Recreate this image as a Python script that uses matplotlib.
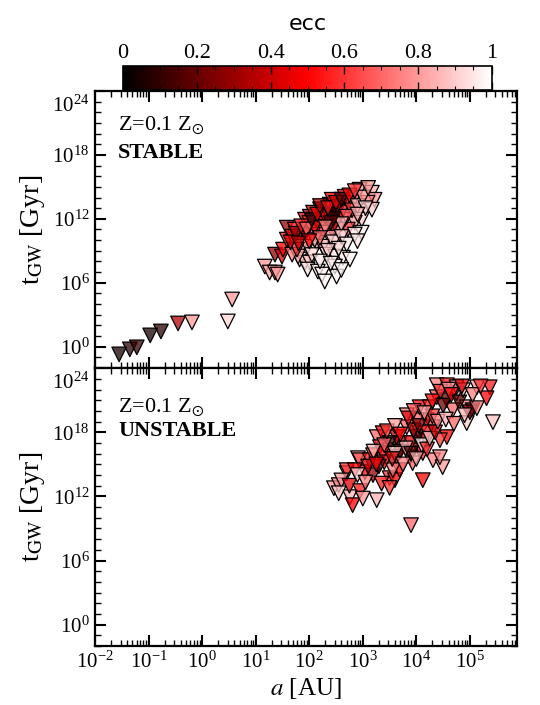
import numpy as np
import matplotlib
matplotlib.use("Agg")
import matplotlib.pyplot as plt
import matplotlib.transforms as mtrans
from matplotlib.colors import LinearSegmentedColormap, Normalize
from matplotlib.cm import ScalarMappable
from matplotlib.ticker import LogLocator, NullFormatter, FixedLocator, MultipleLocator, FuncFormatter

plt.rcParams["font.family"] = ["Liberation Serif", "DejaVu Serif"]
plt.rcParams["mathtext.fontset"] = "stix"

# --- STABLE (top panel): log10 a [AU], log10 t_GW [Gyr], eccentricity ---
st_loga = [-1.55, -1.35, -1.22, -0.97, -0.77, -0.45, -0.19, 0.48, 0.56,
           1.17, 1.26, 1.36, 1.41, 1.36, 1.49, 1.51, 1.58, 1.58, 1.68, 1.79, 1.73,
           1.92, 2.01, 2.07, 2.16, 2.25, 2.33, 2.38, 2.42, 2.57, 2.66, 2.72, 2.85,
           2.94, 3.17, 3.22, 3.09, 3.17, 2.98, 2.85, 2.72, 2.98, 2.85, 2.66, 2.53,
           2.53, 2.42, 2.38, 2.24, 2.07, 1.92, 1.86, 1.97, 2.14, 2.25, 2.33, 2.48,
           2.63, 2.76, 1.82, 1.92, 2.01, 1.97, 2.16, 2.24, 2.48, 2.51, 2.29, 1.79,
           1.68, 1.77, 2.20, 2.45, 2.30, 2.60, 2.10, 2.00, 2.50, 2.80, 2.70, 2.40,
           2.45,
           1.65, 1.75, 1.85, 1.95, 2.05, 2.15, 2.20, 2.35, 2.50, 2.60, 2.75, 2.90,
           3.00, 3.05, 2.90, 2.60, 2.40, 2.30, 2.10, 2.20, 2.45, 2.60, 2.70, 2.55,
           2.35, 2.05, 2.20, 2.40, 2.60, 2.90, 2.00, 1.80, 3.10, 2.85]
st_logt = [-0.72, -0.25, -0.06, 1.06, 1.43, 2.18, 2.28, 2.37, 4.43,
           7.52, 6.96, 6.96, 6.77, 8.64, 8.46, 9.11, 10.05, 11.17, 10.33, 10.33, 10.99,
           11.92, 12.20, 12.58, 11.64, 11.92, 12.58, 13.33, 13.79, 13.14, 14.07, 13.51, 13.98,
           14.73, 14.45, 13.79, 13.51, 12.86, 11.92, 11.64, 10.99, 10.70, 10.52, 11.92, 11.92,
           10.99, 10.99, 10.24, 10.70, 10.52, 10.52, 9.39, 9.39, 9.77, 9.39, 8.64, 8.46,
           8.36, 8.18, 8.18, 7.90, 7.90, 7.24, 7.05, 6.77, 7.52, 6.58, 6.12, 8.46,
           8.64, 9.11, 12.90, 12.30, 12.20, 12.60, 11.20, 11.60, 13.00, 12.80, 12.20, 12.40,
           12.00,
           9.80, 10.60, 11.30, 11.00, 11.90, 12.40, 13.20, 13.00, 13.50, 13.80, 14.20, 13.20,
           14.00, 13.00, 12.40, 11.50, 11.60, 11.20, 10.00, 10.20, 9.80, 10.30, 9.60, 9.20,
           9.00, 8.60, 8.00, 7.80, 7.20, 9.90, 9.90, 9.70, 14.90, 14.60]
st_ecc = [0.05, 0.08, 0.10, 0.05, 0.08, 0.35, 0.80, 0.92, 0.80,
          0.80, 0.82, 0.78, 0.80, 0.30, 0.45, 0.50, 0.55, 0.30, 0.50, 0.45, 0.55,
          0.45, 0.30, 0.40, 0.20, 0.50, 0.15, 0.45, 0.50, 0.20, 0.50, 0.45, 0.70,
          0.80, 0.85, 0.80, 0.75, 0.90, 0.90, 0.80, 0.60, 0.97, 0.95, 0.75, 0.40,
          0.70, 0.35, 0.80, 0.65, 0.60, 0.50, 0.85, 0.80, 0.80, 0.85, 0.95, 0.95,
          0.95, 0.97, 0.90, 0.90, 0.88, 0.95, 0.96, 0.97, 0.98, 0.98, 0.98, 0.85,
          0.75, 0.60, 0.10, 0.05, 0.45, 0.55, 0.50, 0.60, 0.50, 0.60, 0.65, 0.10,
          0.12,
          0.45, 0.30, 0.55, 0.70, 0.10, 0.50, 0.35, 0.55, 0.45, 0.15, 0.50, 0.85,
          0.80, 0.90, 0.85, 0.85, 0.20, 0.75, 0.85, 0.70, 0.90, 0.90, 0.95, 0.92,
          0.90, 0.92, 0.95, 0.96, 0.98, 0.95, 0.50, 0.40, 0.80, 0.60]

# --- UNSTABLE (bottom panel) ---
un_loga = [2.46, 2.55, 2.70, 2.76, 2.81, 3.26, 3.90, 4.12, 2.70, 2.91, 3.04, 3.19,
           3.50, 3.60, 2.94, 3.13, 3.26, 3.37, 3.32, 3.50, 3.69, 3.82, 3.63, 4.06,
           4.31, 4.49, 4.44, 4.57, 4.44, 4.31, 4.19, 4.01, 3.82, 4.06, 4.25, 4.38,
           4.57, 4.68, 4.75, 4.38, 4.57, 4.75, 4.87, 4.94, 5.05, 4.94, 5.13, 5.37,
           5.31, 5.43, 4.06, 4.19, 3.88, 3.93, 3.63, 4.12, 3.69, 2.85, 3.19, 3.37,
           3.56, 5.00, 5.13, 3.50, 3.70, 3.90, 3.80, 4.00, 3.40, 3.60, 4.20, 4.30,
           3.95, 4.10, 3.30,
           2.60, 2.75, 2.90, 2.95, 3.05, 3.10, 3.20, 3.25, 3.35, 3.40, 3.45, 3.55,
           3.60, 3.70, 3.75, 3.85, 3.90, 3.95, 4.00, 4.05, 4.15, 4.20, 4.25, 4.30,
           4.35, 4.40, 4.45, 4.50, 4.55, 4.60, 4.65, 4.70, 4.80, 4.85, 4.90, 5.05,
           5.20, 3.00, 2.55, 3.50]
un_logt = [12.77, 13.06, 14.18, 11.93, 11.18, 11.65, 9.31, 13.52, 14.46, 15.58, 14.27, 13.99,
           13.71, 13.52, 15.39, 15.39, 17.55, 17.92, 16.61, 16.33, 16.98, 18.48, 17.55, 16.33,
           15.39, 14.74, 15.67, 17.55, 17.26, 18.48, 19.14, 19.14, 19.60, 20.35, 20.35, 21.29,
           21.01, 20.07, 21.66, 22.41, 22.41, 22.22, 21.94, 20.35, 20.07, 18.86, 22.22, 22.22,
           21.19, 18.95, 17.92, 17.26, 15.67, 15.11, 15.67, 16.05, 14.46, 14.46, 15.86, 16.05,
           14.46, 19.88, 20.26, 17.00, 16.20, 17.00, 16.50, 17.60, 15.20, 16.00, 18.00, 19.50,
           18.20, 16.80, 14.80,
           13.50, 13.00, 14.00, 12.50, 13.30, 14.80, 16.20, 15.00, 13.20, 16.80, 18.10, 15.50,
           18.60, 17.80, 15.00, 19.30, 16.00, 20.00, 15.50, 18.60, 19.80, 16.40, 17.40, 20.90,
           18.00, 19.00, 21.80, 20.50, 19.20, 22.00, 21.50, 18.80, 20.80, 22.30, 19.60, 21.50,
           22.30, 11.80, 12.30, 12.80]
un_ecc = [0.80, 0.75, 0.70, 0.85, 0.50, 0.85, 0.70, 0.50, 0.60, 0.80, 0.50, 0.30,
          0.60, 0.50, 0.65, 0.55, 0.70, 0.50, 0.60, 0.75, 0.30, 0.70, 0.40, 0.50,
          0.75, 0.80, 0.75, 0.50, 0.60, 0.65, 0.40, 0.70, 0.75, 0.50, 0.55, 0.65,
          0.20, 0.70, 0.80, 0.75, 0.55, 0.80, 0.85, 0.75, 0.20, 0.90, 0.80, 0.55,
          0.50, 0.88, 0.80, 0.40, 0.55, 0.70, 0.30, 0.60, 0.50, 0.50, 0.60, 0.50,
          0.75, 0.25, 0.75, 0.10, 0.20, 0.45, 0.85, 0.15, 0.45, 0.90, 0.55, 0.60,
          0.35, 0.95, 0.20,
          0.80, 0.45, 0.90, 0.55, 0.75, 0.40, 0.85, 0.50, 0.55, 0.70, 0.60, 0.40,
          0.80, 0.50, 0.75, 0.45, 0.15, 0.65, 0.85, 0.25, 0.80, 0.60, 0.90, 0.50,
          0.40, 0.75, 0.60, 0.20, 0.85, 0.80, 0.50, 0.70, 0.15, 0.45, 0.85, 0.75,
          0.60, 0.80, 0.90, 0.60]

cmap = LinearSegmentedColormap.from_list("ecc", ["black", "red", "white"])
norm = Normalize(0, 1)

fig = plt.figure(figsize=(5.4, 7.05), dpi=100)
ax1 = fig.add_axes([0.176, 0.478, 0.781, 0.393])
ax2 = fig.add_axes([0.176, 0.0837, 0.781, 0.394])
cax = fig.add_axes([0.228, 0.873, 0.683, 0.034])

ylab = FuncFormatter(lambda v, p: "" if v > 1e23 else r"$\mathdefault{10^{%d}}$" % round(np.log10(v)))

panels = [(ax1, st_loga, st_logt, st_ecc, "STABLE", 0.875),
          (ax2, un_loga, un_logt, un_ecc, "UNSTABLE", 0.86)]
for ax, la, lt, ec, name, ty in panels:
    fc = cmap(norm(np.array(ec)))
    fc[:, 3] = 0.75                      # translucent faces, solid black edges
    ax.scatter(10.0 ** np.array(la), 10.0 ** np.array(lt), facecolors=fc,
               marker="v", s=110, edgecolors="black", linewidths=0.9, zorder=3)
    ax.set_xscale("log"); ax.set_yscale("log")
    ax.set_xlim(1e-2, 7.5e5); ax.set_ylim(1e-2, 1e24)
    ax.yaxis.set_major_locator(FixedLocator([1e0, 1e6, 1e12, 1e18, 1e24]))
    ax.yaxis.set_major_formatter(ylab)
    ax.yaxis.set_minor_locator(FixedLocator([10.0 ** k for k in range(-2, 25)]))
    ax.yaxis.set_minor_formatter(NullFormatter())
    ax.xaxis.set_major_locator(LogLocator(base=10, numticks=20))
    ax.xaxis.set_minor_locator(LogLocator(base=10, subs=np.arange(2, 10), numticks=20))
    ax.xaxis.set_minor_formatter(NullFormatter())
    ax.tick_params(which="both", direction="in", top=True, right=True, labelsize=15, pad=4)
    ax.tick_params(which="major", length=8, width=1.5)
    ax.tick_params(which="minor", length=4, width=1.0)
    for sp in ax.spines.values():
        sp.set_linewidth(1.6)
    # top tick label hangs below the top spine
    off = mtrans.ScaledTranslation(-4 / 72, -3 / 72, fig.dpi_scale_trans)
    ax.text(0, 1e24, r"$\mathdefault{10^{24}}$", transform=ax.get_yaxis_transform() + off,
            fontsize=15, ha="right", va="top")
    ax.set_ylabel(r"t$_{\rm GW}$ [Gyr]", fontsize=20, labelpad=4)
    ax.text(0.055, ty, r"Z=0.1 Z$_{\odot}$", transform=ax.transAxes, fontsize=16,
            va="center", ha="left")
    ax.text(0.055, 0.775, name, transform=ax.transAxes, fontsize=16, fontweight="bold",
            va="center", ha="left")

ax1.tick_params(labelbottom=False)
ax2.set_xlabel(r"$a$ [AU]", fontsize=18, labelpad=2)

cb = fig.colorbar(ScalarMappable(norm=norm, cmap=cmap), cax=cax, orientation="horizontal")
cax.xaxis.set_ticks_position("top")
cax.xaxis.set_label_position("top")
cb.set_ticks([0, 0.2, 0.4, 0.6, 0.8, 1])
cb.set_ticklabels(["0", "0.2", "0.4", "0.6", "0.8", "1"])
cax.xaxis.set_minor_locator(MultipleLocator(0.05))
cax.tick_params(which="both", direction="in", top=True, bottom=True, labelsize=16, pad=2)
cax.tick_params(which="major", length=6, width=1.0)
cax.tick_params(which="minor", length=3, width=0.8)
cb.outline.set_linewidth(1.2)
cb.set_label("ecc", fontsize=16, family="DejaVu Sans", labelpad=10)

fig.savefig("out.png", dpi=100)
